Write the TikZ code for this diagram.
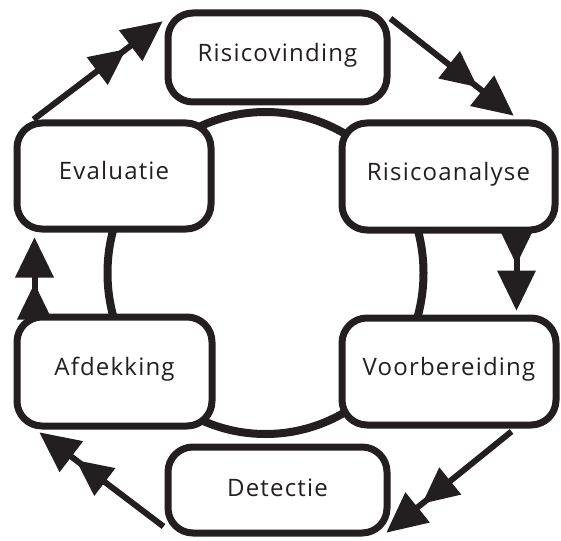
\documentclass[tikz,border=0pt]{standalone}
\usepackage{fontspec}
\usetikzlibrary{calc}
\newfontfamily\lblfont[LetterSpace=5]{Open Sans}
\definecolor{ink}{HTML}{231F20}
% two stacked filled triangles at the end of the connector from #1 to #2
\newcommand\flowheads[2]{%
  \coordinate (h1) at ($(#2)!40pt!(#1)$);
  \coordinate (t2) at ($(#2)!46pt!(#1)$);
  \coordinate (h2) at ($(#2)!82pt!(#1)$);
  \fill[ink] (#2) -- ($(h1)!19.5pt!90:(#2)$) -- ($(h1)!19.5pt!-90:(#2)$) -- cycle;
  \fill[ink] (t2) -- ($(h2)!17.5pt!90:(#2)$) -- ($(h2)!17.5pt!-90:(#2)$) -- cycle;
}
\begin{document}
\begin{tikzpicture}[x=1pt,y=-1pt,
  stagebox/.style={draw=ink,line width=7pt,fill=white,rounded corners=25pt,
    inner sep=0pt,text=ink,font=\lblfont\fontsize{24}{28}\selectfont,
    text height=0.714em,text depth=0pt},
  flow/.style={draw=ink,line width=6pt,shorten >=20pt}]
\useasboundingbox (0,0) rectangle (561,540);
\coordinate (c) at (265.5,273);
\draw[ink,line width=8pt] (c) ellipse [x radius=158, y radius=161];
\node[stagebox,minimum width=194pt,minimum height=106pt] (ev) at (114,176) {Evaluatie};
\node[stagebox,minimum width=219pt,minimum height=89pt] (rv) at (277.5,57.5) {Risicovinding};
\node[stagebox,minimum width=213pt,minimum height=107pt] (ra) at (448.5,176.5) {Risicoanalyse};
\node[stagebox,minimum width=214pt,minimum height=107pt] (vb) at (449,371.5) {Voorbereiding};
\node[stagebox,minimum width=195pt,minimum height=109pt] (af) at (114.5,371.5) {Afdekking};
\node[stagebox,minimum width=219pt,minimum height=86pt,text height=0.714em+5pt,text depth=-5pt] (de) at (277.5,490) {Detectie};
\coordinate (s1) at ($(ev.north west)+(20,0)$);
\coordinate (e1) at ($(rv.north west)+(-2,12)$);
\coordinate (s2) at ($(rv.north east)+(0,9)$);
\coordinate (e2) at ($(ra.north east)+(-45,-4)$);
\coordinate (s3) at ($(ra.south east)+(-42,0)$);
\coordinate (e3) at ($(vb.north east)+(-43,-4)$);
\coordinate (s4) at ($(vb.south east)+(-48,3)$);
\coordinate (e4) at ($(de.south east)+(-4,-4)$);
\coordinate (s5) at ($(de.south west)+(-1,-10)$);
\coordinate (e5) at ($(af.south west)+(26,3)$);
\coordinate (s6) at ($(af.north west)+(21,0)$);
\coordinate (e6) at ($(ev.south west)+(21,5)$);
\foreach \k in {1,...,6}{
  \draw[flow] (s\k) -- (e\k);
  \flowheads{s\k}{e\k}
}
\end{tikzpicture}
\end{document}
